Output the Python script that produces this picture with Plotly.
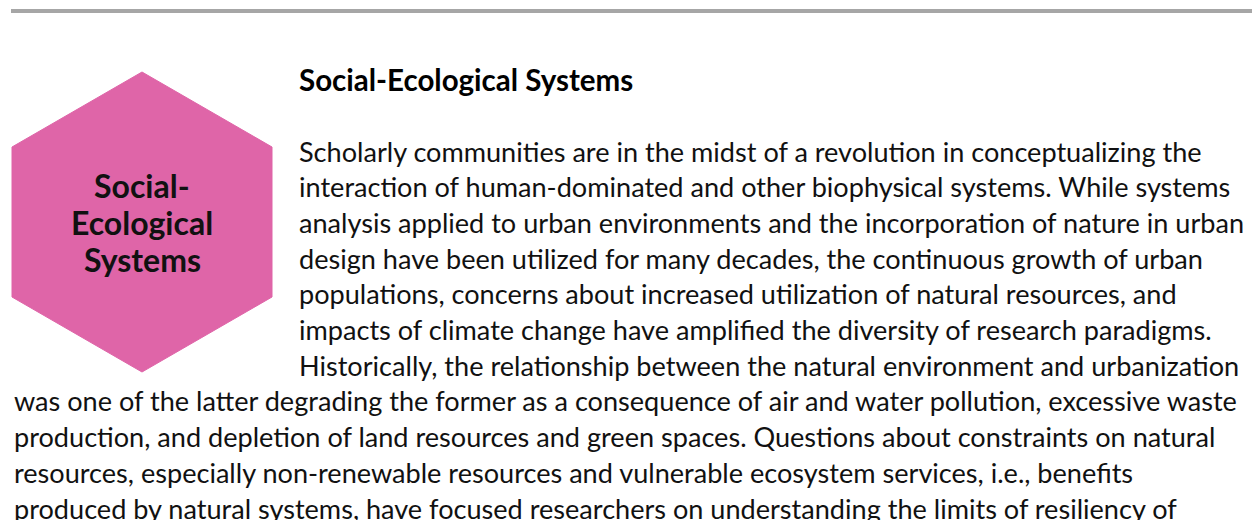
import plotly.graph_objects as go

# ---- data ----
hex_x = [142, 272, 272, 142, 12, 12, 142]
hex_y = [72, 147, 297, 372, 297, 147, 72]
hex_label = ["Social-", "Ecological", "Systems"]
title_text = "Social-Ecological Systems"
side_lines = [
    "Scholarly communities are in the midst of a revolution in conceptualizing the",
    "interaction of human-dominated and other biophysical systems. While systems",
    "analysis applied to urban environments and the incorporation of nature in urban",
    "design have been utilized for many decades, the continuous growth of urban",
    "populations, concerns about increased utilization of natural resources, and",
    "impacts of climate change have amplified the diversity of research paradigms.",
    "Historically, the relationship between the natural environment and urbanization",
]
full_lines = [
    "was one of the latter degrading the former as a consequence of air and water pollution, excessive waste",
    "production, and depletion of land resources and green spaces. Questions about constraints on natural",
    "resources, especially non-renewable resources and vulnerable ecosystem services, i.e., benefits",
    "produced by natural systems, have focused researchers on understanding the limits of resiliency of",
]

W, H = 1260, 520
OFF = 8  # page body margin compensation
FONT = "Lato"
BODY_SIZE = 27.1
LINE_H = 35.7
FIRST_Y = 151

fig = go.Figure()
# top rule
fig.add_trace(go.Scatter(x=[11, 1259], y=[11, 11], mode="lines",
                         line=dict(color="#A6A6A6", width=4), hoverinfo="skip", showlegend=False))
# hexagon
fig.add_trace(go.Scatter(x=hex_x, y=hex_y, mode="lines", fill="toself",
                         fillcolor="#DF65A8", line=dict(color="#DF65A8", width=1),
                         hoverinfo="skip", showlegend=False))

ann = []
for i, t in enumerate(hex_label):
    ann.append(dict(x=142, y=185 + i * 37, text=f"<b>{t}</b>", showarrow=False,
                    xanchor="center", yanchor="middle",
                    font=dict(family=FONT, size=32, color="#111111")))
ann.append(dict(x=297, y=79, text=f"<b>{title_text}</b>", showarrow=False,
                xanchor="left", yanchor="middle",
                font=dict(family=FONT, size=29.5, color="#000000")))
for i, t in enumerate(side_lines):
    ann.append(dict(x=297, y=FIRST_Y + i * LINE_H, text=t, showarrow=False,
                    xanchor="left", yanchor="middle",
                    font=dict(family=FONT, size=BODY_SIZE, color="#111111")))
for j, t in enumerate(full_lines):
    i = j + len(side_lines)
    ann.append(dict(x=12, y=FIRST_Y + i * LINE_H, text=t, showarrow=False,
                    xanchor="left", yanchor="middle",
                    font=dict(family=FONT, size=BODY_SIZE, color="#111111")))

fig.update_layout(
    width=W, height=H, margin=dict(l=0, r=0, t=0, b=0),
    paper_bgcolor="white", plot_bgcolor="white",
    xaxis=dict(range=[OFF, W + OFF], visible=False, fixedrange=True),
    yaxis=dict(range=[H + OFF, OFF], visible=False, fixedrange=True),
    annotations=ann, showlegend=False,
)
fig.write_html("out.html", config={"displayModeBar": False})
